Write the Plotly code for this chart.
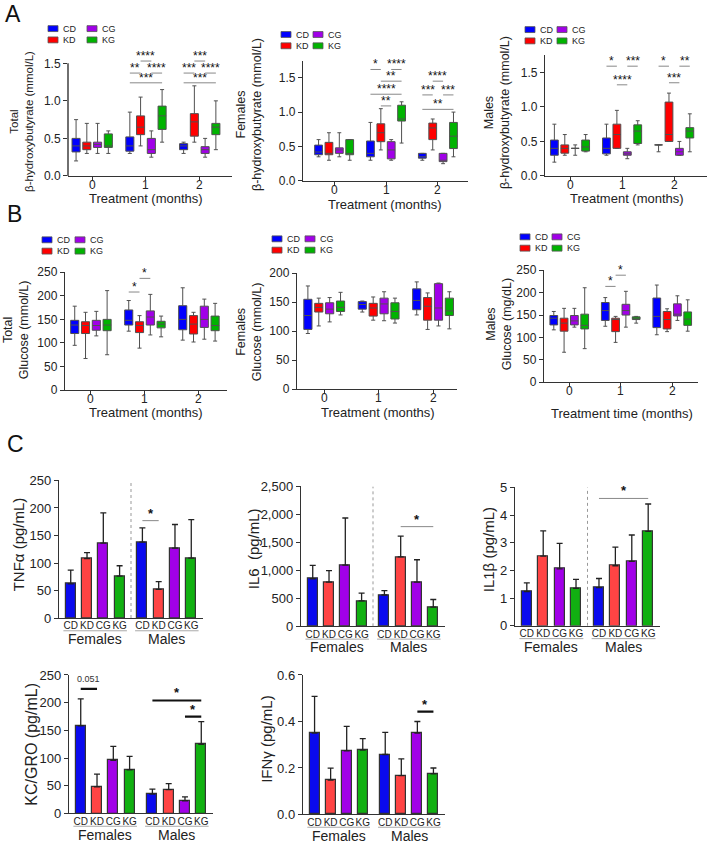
import plotly.graph_objects as go

FONT = "Liberation Sans, Arial, Helvetica, sans-serif"
W, H = 711, 849

# ---------------- data ----------------
GROUPS = ["CD", "KD", "CG", "KG"]
MONTHS = ["0", "1", "2"]
BOX_COLORS = {"CD": "#0000ff", "KD": "#ff0000", "CG": "#a100e8", "KG": "#00b300"}

# [lower whisker, Q1, median, Q3, upper whisker] for months 0, 1, 2
bhb_total = {
    "CD": [[0.20, 0.32, 0.40, 0.50, 0.75], [0.30, 0.33, 0.40, 0.52, 0.85], [0.30, 0.35, 0.40, 0.43, 0.45]],
    "KD": [[0.30, 0.35, 0.40, 0.45, 0.70], [0.40, 0.55, 0.65, 0.80, 1.05], [0.45, 0.53, 0.72, 0.83, 1.20]],
    "CG": [[0.30, 0.38, 0.42, 0.45, 0.70], [0.25, 0.30, 0.35, 0.50, 0.60], [0.25, 0.30, 0.35, 0.39, 0.50]],
    "KG": [[0.30, 0.38, 0.40, 0.56, 0.60], [0.45, 0.62, 0.80, 0.93, 1.15], [0.35, 0.55, 0.65, 0.70, 1.00]],
}
bhb_females = {
    "CD": [[0.35, 0.38, 0.42, 0.52, 0.60], [0.30, 0.35, 0.40, 0.58, 0.85], [0.30, 0.33, 0.35, 0.40, 0.40]],
    "KD": [[0.30, 0.38, 0.40, 0.56, 0.70], [0.45, 0.57, 0.70, 0.83, 1.05], [0.45, 0.60, 0.77, 0.84, 0.90]],
    "CG": [[0.35, 0.40, 0.45, 0.48, 0.70], [0.30, 0.32, 0.45, 0.57, 0.60], [0.25, 0.28, 0.30, 0.40, 0.40]],
    "KG": [[0.30, 0.38, 0.40, 0.60, 0.60], [0.55, 0.87, 0.90, 1.10, 1.15], [0.35, 0.47, 0.65, 0.85, 1.00]],
}
bhb_males = {
    "CD": [[0.20, 0.30, 0.40, 0.52, 0.75], [0.30, 0.32, 0.40, 0.55, 0.75], [0.35, 0.45, 0.45, 0.45, 0.45]],
    "KD": [[0.30, 0.33, 0.40, 0.45, 0.60], [0.40, 0.40, 0.60, 0.75, 0.95], [0.50, 0.50, 0.60, 1.07, 1.20]],
    "CG": [[0.30, 0.40, 0.40, 0.40, 0.45], [0.25, 0.30, 0.32, 0.35, 0.40], [0.30, 0.30, 0.35, 0.40, 0.50]],
    "KG": [[0.35, 0.36, 0.42, 0.52, 0.60], [0.45, 0.47, 0.65, 0.74, 0.80], [0.35, 0.55, 0.65, 0.70, 0.90]],
}
glu_total = {
    "CD": [[95, 120, 138, 148, 178], [125, 138, 148, 170, 190], [106, 128, 150, 179, 217]],
    "KD": [[67, 120, 137, 145, 165], [89, 122, 137, 145, 158], [102, 119, 140, 158, 165]],
    "CG": [[115, 127, 137, 148, 167], [117, 138, 155, 168, 203], [108, 133, 150, 178, 193]],
    "KG": [[75, 126, 138, 150, 211], [113, 132, 140, 146, 157], [104, 126, 137, 157, 184]],
}
glu_females = {
    "CD": [[96, 103, 127, 155, 178], [133, 138, 146, 151, 152], [128, 137, 153, 173, 185]],
    "KD": [[109, 133, 141, 148, 157], [119, 126, 140, 148, 159], [103, 119, 143, 158, 166]],
    "CG": [[116, 130, 138, 149, 158], [118, 130, 147, 157, 168], [109, 119, 140, 182, 183]],
    "KG": [[128, 134, 141, 152, 167], [114, 121, 134, 149, 157], [104, 127, 135, 157, 168]],
}
glu_males = {
    "CD": [[117, 128, 143, 149, 158], [125, 138, 160, 178, 189], [106, 122, 147, 188, 217]],
    "KD": [[67, 114, 132, 143, 165], [89, 113, 140, 143, 147], [113, 119, 140, 158, 164]],
    "CG": [[123, 128, 137, 149, 165], [123, 150, 160, 174, 203], [138, 148, 152, 175, 193]],
    "KG": [[75, 119, 127, 152, 211], [132, 140, 143, 146, 147], [114, 127, 141, 157, 184]],
}

# significance bars: (month index, group a, group b, bar height, label)
sig_bhb_total = [
    (1, "KD", "CG", 1.53, "****"), (1, "CD", "KD", 1.37, "**"), (1, "CG", "KG", 1.37, "****"),
    (1, "CD", "KG", 1.24, "***"),
    (2, "KD", "CG", 1.53, "***"), (2, "CD", "KD", 1.37, "***"), (2, "CG", "KG", 1.37, "****"),
    (2, "CD", "KG", 1.24, "***"),
]
sig_bhb_females = [
    (1, "CD", "KD", 1.62, "*"), (1, "CG", "KG", 1.62, "****"), (1, "KD", "KG", 1.45, "**"),
    (1, "CD", "KG", 1.26, "****"), (1, "KD", "CG", 1.09, "**"),
    (2, "KD", "CG", 1.45, "****"), (2, "CD", "KD", 1.25, "***"), (2, "CG", "KG", 1.25, "***"),
    (2, "CD", "KG", 1.04, "**"),
]
sig_bhb_males = [
    (1, "CD", "KD", 1.59, "*"), (1, "CG", "KG", 1.59, "***"), (1, "KD", "CG", 1.32, "****"),
    (2, "CD", "KD", 1.59, "*"), (2, "CG", "KG", 1.59, "**"), (2, "KD", "CG", 1.35, "***"),
]
sig_glu_total = [(1, "CD", "KD", 208, "*"), (1, "KD", "CG", 237, "*")]
sig_glu_females = []
sig_glu_males = [(1, "CD", "KD", 214, "*"), (1, "KD", "CG", 239, "*")]

# cytokines: Females CD, KD, CG, KG, Males CD, KD, CG, KG
BAR_LABELS = ["CD", "KD", "CG", "KG", "CD", "KD", "CG", "KG"]
SEXES = ["Females", "Males"]
BAR_FILL = ["#0a0aee", "#ff4444", "#a100e8", "#11b011"] * 2
tnfa_mean = [62, 108, 136, 76, 138, 52, 127, 109]
tnfa_sem = [25, 11, 55, 19, 26, 14, 43, 70]
il6_mean = [850, 790, 1095, 455, 560, 1240, 790, 345]
il6_sem = [240, 205, 840, 140, 80, 370, 400, 135]
il1b_mean = [1.24, 2.52, 2.06, 1.35, 1.38, 2.17, 2.33, 3.41]
il1b_sem = [0.31, 0.91, 0.92, 0.33, 0.33, 0.67, 0.95, 0.99]
kc_mean = [158, 48, 96, 79, 35, 43, 23, 125]
kc_sem = [49, 23, 25, 24, 9, 11, 7, 41]
ifng_mean = [0.350, 0.148, 0.274, 0.277, 0.258, 0.167, 0.350, 0.175]
ifng_sem = [0.158, 0.051, 0.105, 0.049, 0.095, 0.072, 0.050, 0.025]
# (bar index a, bar index b, height, label)
sig_tnfa = [(4, 5, 177, "*")]
sig_il6 = [(5, 7, 1781, "*")]
sig_il1b = [(4, 7, 4.6, "*")]
sig_kc = [(0, 1, 225, "0.051"), (4, 7, 204, "*"), (6, 7, 175, "*")]
sig_ifng = [(6, 7, 0.442, "*")]

# ---------------- layout helpers ----------------
SLOT = 0.2
BOX_W = 0.15
OFFS = {g: (i - 1.5) * SLOT for i, g in enumerate(GROUPS)}
MONTH_POS = [0, 1, 2]
BAR_POS = [0, 1, 2, 3, 4.4, 5.4, 6.4, 7.4]
BAR_XR = [-0.72, 8.12]

fig = go.Figure()
layout = {}
annotations = []
shapes = []


def px(x):
    return x / W


def py(y):
    return 1 - y / H


def names(i):
    s = "" if i == 1 else str(i)
    return "x" + s, "y" + s, "xaxis" + s, "yaxis" + s


def text(x, y, t, size, xref="paper", yref="paper", angle=0, color="#222", **kw):
    annotations.append(dict(x=x, y=y, xref=xref, yref=yref, text=t, showarrow=False,
                            textangle=angle, font=dict(family=FONT, size=size, color=color), **kw))


AX = dict(showgrid=False, zeroline=False, showline=True, linecolor="#333", linewidth=1.4,
          ticks="outside", ticklen=4, tickwidth=1.2, tickcolor="#333")


def add_box_panel(i, stats, sigs, frame, xr, yr, yticks, fmt, tsize, axis_top,
                  ytitle, ytpos, ytsize, xtitle, xtpos, legend):
    xr_, yr_, xk, yk = names(i)
    x0, x1, ytop, ybot = frame
    for g in GROUPS:
        s = stats[g]
        fig.add_trace(go.Box(
            x=[m + OFFS[g] for m in MONTH_POS], orientation="v", width=BOX_W,
            lowerfence=[v[0] for v in s], q1=[v[1] for v in s], median=[v[2] for v in s],
            q3=[v[3] for v in s], upperfence=[v[4] for v in s],
            name=g, fillcolor=BOX_COLORS[g], line=dict(color="#505050", width=1),
            whiskerwidth=0.5, boxpoints=False, showlegend=False, xaxis=xr_, yaxis=yr_))
    layout[xk] = dict(AX, domain=[px(x0), px(x1)], anchor=yr_, range=list(xr),
                      tickvals=MONTH_POS, showticklabels=False, ticklen=3)
    for m, lab in zip(MONTH_POS, MONTHS):
        text(m, py(ybot + 9), lab, tsize, xref=xr_, xanchor="center", yanchor="middle")
    layout[yk] = dict(AX, domain=[py(ybot), py(ytop)], anchor=xr_, range=list(yr),
                      tickvals=yticks, tickformat=fmt,
                      tickfont=dict(family=FONT, size=tsize, color="#222"))
    if axis_top is not None:
        layout[yk]["showline"] = False
        shapes.append(dict(type="line", xref=xr_ + " domain", yref=yr_, x0=0, x1=0,
                           y0=yr[0], y1=axis_top, line=dict(color="#333", width=1.4)))
    for m, a, b, yv, lab in sigs:
        xa_, xb_ = m + OFFS[a], m + OFFS[b]
        shapes.append(dict(type="line", xref=xr_, yref=yr_, x0=xa_, x1=xb_, y0=yv, y1=yv,
                           line=dict(color="#888", width=1)))
        text((xa_ + xb_) / 2, yv, lab, 12, xref=xr_, yref=yr_, color="#111",
             yanchor="bottom", yshift=-4)
    text(px(ytpos[0]), py(ytpos[1]), ytitle, ytsize, angle=-90, xanchor="center", yanchor="middle")
    text(px(xtpos[0]), py(xtpos[1]), xtitle, 13, xanchor="center", yanchor="middle")
    lx, ly, dx = legend
    order = [("CD", 0, 0), ("CG", 1, 0), ("KD", 0, 1), ("KG", 1, 1)]
    for g, c, r in order:
        sx = lx + c * dx
        sy = ly + r * 11.5
        shapes.append(dict(type="rect", xref="paper", yref="paper", x0=px(sx), x1=px(sx + 10),
                           y0=py(sy + 3), y1=py(sy - 3), fillcolor=BOX_COLORS[g],
                           line=dict(color="#555", width=0.8)))
        text(px(sx + 12.5), py(sy), g, 9, xanchor="left", yanchor="middle")


def add_bar_panel(i, means, sems, sigs, frame, yr, dtick, fmt, ytitle, ytpos, ytsize,
                  divider, heavy):
    xr_, yr_, xk, yk = names(i)
    x0, x1, ytop, ybot = frame
    fig.add_trace(go.Bar(
        x=BAR_POS, y=means, width=0.62,
        marker=dict(color=BAR_FILL, line=dict(color="#333", width=1.2)),
        error_y=dict(type="data", symmetric=False, array=sems, arrayminus=[0] * len(sems),
                     color="#222", thickness=1.3, width=3),
        showlegend=False, xaxis=xr_, yaxis=yr_))
    layout[xk] = dict(AX, domain=[px(x0), px(x1)], anchor=yr_, range=BAR_XR, ticks="",
                      tickvals=BAR_POS, ticktext=BAR_LABELS, tickangle=0, ticklabelstandoff=-2,
                      tickfont=dict(family=FONT, size=10, color="#222"))
    layout[yk] = dict(AX, domain=[py(ybot), py(ytop)], anchor=xr_, range=list(yr),
                      dtick=dtick, tick0=0, tickformat=fmt,
                      tickfont=dict(family=FONT, size=13, color="#222"))
    if divider:
        shapes.append(dict(type="line", xref=xr_, yref=yr_, x0=3.7, x1=3.7, y0=yr[0], y1=yr[1],
                           line=dict(color="#999", width=1, dash="dot")))
    for k, sex in enumerate(SEXES):
        a, b = BAR_POS[4 * k], BAR_POS[4 * k + 3]
        shapes.append(dict(type="line", xref=xr_, yref="paper", x0=a - 0.45, x1=b + 0.45,
                           y0=py(ybot + 13), y1=py(ybot + 13), line=dict(color="#aaa", width=1)))
        text((a + b) / 2, py(ybot + 21.5), sex, 14, xref=xr_, xanchor="center", yanchor="middle")
    for a, b, yv, lab in sigs:
        xa_, xb_ = BAR_POS[a], BAR_POS[b]
        shapes.append(dict(type="line", xref=xr_, yref=yr_, x0=xa_, x1=xb_, y0=yv, y1=yv,
                           line=dict(color="#111" if heavy else "#888", width=2.2 if heavy else 1)))
        if lab == "*":
            text((xa_ + xb_) / 2, yv, "<b>*</b>", 13, xref=xr_, yref=yr_, color="#111",
                 yanchor="bottom", yshift=-2)
        else:
            text((xa_ + xb_) / 2, yv, lab, 9, xref=xr_, yref=yr_, color="#333",
                 yanchor="bottom", yshift=3)
    text(px(ytpos[0]), py(ytpos[1]), ytitle, ytsize, angle=-90, xanchor="center", yanchor="middle")


# ---------------- panels ----------------
A_TICKS = [0, 0.5, 1.0, 1.5]
add_box_panel(1, bhb_total, sig_bhb_total, (68, 232, 38.2, 172), (-0.45, 2.6), (0, 1.75), A_TICKS,
              ".1f", 12, 1.5, "Total<br>β-hydroxybutyrate (mmol/L)", (22, 117), 11.5,
              "Treatment (months)", (146, 195), (48, 22, 39))
add_box_panel(2, bhb_females, sig_bhb_females, (303, 468, 54.5, 177), (-0.6, 2.58), (0, 1.75), A_TICKS,
              ".1f", 12, None, "Females<br>β-hydroxybutyrate (mmol/L)", (249, 110), 12.5,
              "Treatment (months)", (385, 201), (281, 28, 32))
add_box_panel(3, bhb_males, sig_bhb_males, (545, 707, 49, 172), (-0.48, 2.63), (0, 1.75), A_TICKS,
              ".1f", 12, None, "Males<br>β-hydroxybutyrate (mmol/L)", (497, 108), 12.5,
              "Treatment (months)", (627, 195), (525, 23, 32))
G_TICKS = [0, 50, 100, 150, 200, 250]
add_box_panel(4, glu_total, sig_glu_total, (65, 227, 270, 390), (-0.48, 2.52), (0, 250), G_TICKS,
              "d", 12, None, "Total<br>Glucose (mmol/L)", (16, 329), 12.5,
              "Treatment (months)", (146, 413), (42, 237, 33))
add_box_panel(5, glu_females, sig_glu_females, (297, 457, 271, 389), (-0.5, 2.44), (0, 200),
              [0, 50, 100, 150, 200], "d", 12, None, "Females<br>Glucose (mmol/L)", (249, 331), 12.5,
              "Treatment (months)", (378, 413), (272, 236, 33))
add_box_panel(6, glu_males, sig_glu_males, (544, 698, 268, 382), (-0.49, 2.5), (0, 250), G_TICKS,
              "d", 12, None, "Males<br>Glucose (mg/dL)", (499, 323), 12.5,
              "Treatment time (months)", (622, 414), (520, 234, 32))

add_bar_panel(7, tnfa_mean, tnfa_sem, sig_tnfa, (59, 203, 482, 622), (0, 250), 50, "d",
              "TNFα (pg/mL)", (18, 547), 15, True, False)
add_bar_panel(8, il6_mean, il6_sem, sig_il6, (301, 445, 488, 630.5), (0, 2500), 500, ",",
              "IL6  (pg/mL)", (253, 552), 15, True, False)
add_bar_panel(9, il1b_mean, il1b_sem, sig_il1b, (515, 660, 489, 630), (0, 5), 1, "d",
              "IL1β (pg/mL)", (488, 553), 15, True, False)
add_bar_panel(10, kc_mean, kc_sem, sig_kc, (69, 213, 680, 821), (0, 250), 50, "d",
              "KC/GRO (pg/mL)", (32, 751), 16, False, True)
add_bar_panel(11, ifng_mean, ifng_sem, sig_ifng, (303, 445, 680, 822), (0, 0.6), 0.2, ".1f",
              "IFNγ (pg/mL)", (267, 745), 15, False, True)

# panel letters
text(px(13), py(0), "A", 23, color="#111", xanchor="center", yanchor="top", yshift=8)
text(px(14), py(211), "B", 23, color="#111", xanchor="center", yanchor="middle")
text(px(15), py(445), "C", 23, color="#111", xanchor="center", yanchor="middle")

fig.update_layout(
    width=W, height=H, margin=dict(l=0, r=0, t=0, b=0), autosize=False,
    paper_bgcolor="white", plot_bgcolor="white",
    boxmode="overlay", bargap=0,
    font=dict(family=FONT, color="#222"),
    annotations=annotations, shapes=shapes, showlegend=False,
    **layout,
)
fig.write_html("out.html", config={"responsive": False, "displayModeBar": False},
               post_script="document.body.style.margin='0';document.body.style.overflow='hidden';")
